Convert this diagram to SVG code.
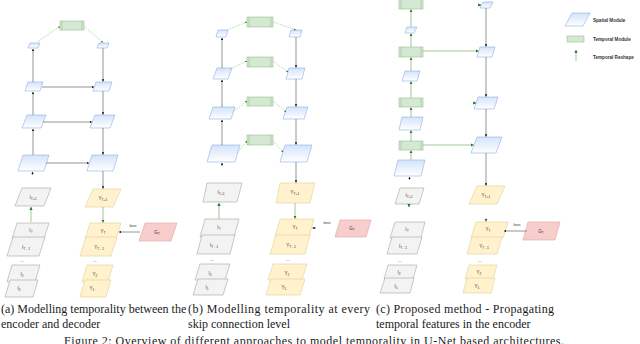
<svg xmlns="http://www.w3.org/2000/svg" width="640" height="344" viewBox="0 0 640 344">
<defs>
<linearGradient id="gs" x1="0" y1="0" x2="0" y2="1"><stop offset="0" stop-color="#d4e3fb"/><stop offset="1" stop-color="#ffffff"/></linearGradient>
<marker id="ad" viewBox="0 0 6 6" refX="5.5" refY="3" markerWidth="3" markerHeight="3" orient="auto"><path d="M0,0 L6,3 L0,6 z" fill="#111"/></marker>
<marker id="ag" viewBox="0 0 6 6" refX="5.5" refY="3" markerWidth="3.5" markerHeight="3.5" orient="auto"><path d="M0,0 L6,3 L0,6 z" fill="#1f7a1f"/></marker>
</defs>
<style>
.sp{fill:url(#gs);stroke:#8eaee6;stroke-width:0.6}
.tm{fill:#d5e8d4;stroke:#97c08a;stroke-width:0.6}
.tl{stroke:#97c08a;stroke-width:0.6}
.in{fill:#f3f3f3;stroke:#a6a6a6;stroke-width:0.6}
.yl{fill:#fff2cc;stroke:#e3cf98;stroke-width:0.6}
.gt{fill:#f8cecc;stroke:#e0a3a1;stroke-width:0.6}
.dk{stroke:#7a7a7a;stroke-width:0.8;fill:none;marker-end:url(#ad)}
.gd{stroke:#97c08a;stroke-width:0.6;fill:none;stroke-dasharray:1.5 1;marker-end:url(#ag)}
.gs{stroke:#97c08a;stroke-width:0.9;fill:none;marker-end:url(#ag)}
.lb{font-family:"Liberation Sans",Arial,sans-serif;font-size:4.5px;fill:#333;text-anchor:middle}
.sb{font-size:3.3px}
.lg{font-family:"Liberation Sans",Arial,sans-serif;font-size:4.6px;fill:#333;font-weight:bold}
.cp{font-family:"Liberation Serif","Times New Roman",serif;font-size:12px;fill:#1a1a1a}
</style>

<!-- Panel (a) -->
<g id="a-L1"><polygon class="sp" points="30,43 40,43 38,48 28,48"/></g>
<g id="a-R1"><polygon class="sp" points="99,43 109,43 107,48 97,48"/></g>
<g id="a-L2"><polygon class="sp" points="28,82 43,82 40,91 25,91"/></g>
<g id="a-R2"><polygon class="sp" points="96,82 112,82 109,91 93,91"/></g>
<g id="a-L3"><polygon class="sp" points="27,115 46,115 41,128 22,128"/></g>
<g id="a-R3"><polygon class="sp" points="95,115 115,115 110,128 90,128"/></g>
<g id="a-L4"><polygon class="sp" points="23,155 49,155 44,171 18,171"/></g>
<g id="a-R4"><polygon class="sp" points="92,155 118,155 113,171 87,171"/></g>
<g id="a-T"><rect class="tm" x="60" y="21" width="24" height="9"/><line class="tl" x1="62" y1="21" x2="62" y2="30"/><line class="tl" x1="82" y1="21" x2="82" y2="30"/></g>

<g id="a-ITp1"><polygon class="in" points="22,188 51,188 44,206 15,206"/><text class="lb" x="33" y="199">I<tspan class="sb" dy="0.8">T+1</tspan></text></g>
<g id="a-IT"><polygon class="in" points="17,223 49,223 44,239 12,239"/><text class="lb" x="31" y="232">I<tspan class="sb" dy="0.8">T</tspan></text></g>
<g id="a-ITm1"><polygon class="in" points="13,237 45,237 39,256 7,256"/><text class="lb" x="26" y="249">I<tspan class="sb" dy="0.8">T - 1</tspan></text></g>
<text class="lb" x="22" y="262">...</text>
<g id="a-I2"><polygon class="in" points="12,265 40,265 35,282 7,282"/><text class="lb" x="22" y="276">I<tspan class="sb" dy="0.8">2</tspan></text></g>
<g id="a-I1"><polygon class="in" points="10,280 38,280 33,297 5,297"/><text class="lb" x="19" y="290">I<tspan class="sb" dy="0.8">1</tspan></text></g>

<g id="a-YTp1"><polygon class="yl" points="93,189 121,189 113,207 85,207"/><text class="lb" x="103" y="200">Y<tspan class="sb" dy="0.8">T+1</tspan></text></g>
<g id="a-YT"><polygon class="yl" points="90,223 121,223 116,239 85,239"/><text class="lb" x="103" y="233">Y<tspan class="sb" dy="0.8">T</tspan></text></g>
<g id="a-YTm1"><polygon class="yl" points="86,237 117,237 111,256 80,256"/><text class="lb" x="99" y="249">Y<tspan class="sb" dy="0.8">T - 1</tspan></text></g>
<text class="lb" x="95" y="262">...</text>
<g id="a-Y2"><polygon class="yl" points="87,265 113,265 108,282 82,282"/><text class="lb" x="95" y="276">Y<tspan class="sb" dy="0.8">2</tspan></text></g>
<g id="a-Y1"><polygon class="yl" points="85,280 111,280 106,297 80,297"/><text class="lb" x="92" y="290">Y<tspan class="sb" dy="0.8">1</tspan></text></g>
<g id="a-GT"><polygon class="gt" points="145,223 177,223 171,241 139,241"/><text class="lb" x="157" y="234">G<tspan class="sb" dy="0.8">T</tspan></text></g>

<!-- Panel (b) -->
<g id="b-L1"><polygon class="sp" points="218,30 228,30 226,37 216,37"/></g>
<g id="b-L2"><polygon class="sp" points="217,68 232,68 228,79 213,79"/></g>
<g id="b-L3"><polygon class="sp" points="213,107 235,107 231,119 209,119"/></g>
<g id="b-L4"><polygon class="sp" points="212,145 240,145 235,162 207,162"/></g>
<g id="b-R1"><polygon class="sp" points="291,30 302,30 300,37 289,37"/></g>
<g id="b-R2"><polygon class="sp" points="289,68 305,68 302,79 286,79"/></g>
<g id="b-R3"><polygon class="sp" points="287,107 308,107 304,119 283,119"/></g>
<g id="b-R4"><polygon class="sp" points="285,145 312,145 307,162 280,162"/></g>
<g id="b-T1"><rect class="tm" x="247" y="17" width="26" height="10"/><line class="tl" x1="249" y1="17" x2="249" y2="27"/><line class="tl" x1="271" y1="17" x2="271" y2="27"/></g>
<g id="b-T2"><rect class="tm" x="247" y="57" width="26" height="10"/><line class="tl" x1="249" y1="57" x2="249" y2="67"/><line class="tl" x1="271" y1="57" x2="271" y2="67"/></g>
<g id="b-T3"><rect class="tm" x="247" y="97" width="26" height="9"/><line class="tl" x1="249" y1="97" x2="249" y2="106"/><line class="tl" x1="271" y1="97" x2="271" y2="106"/></g>
<g id="b-T4"><rect class="tm" x="247" y="135" width="26" height="10"/><line class="tl" x1="249" y1="135" x2="249" y2="145"/><line class="tl" x1="271" y1="135" x2="271" y2="145"/></g>

<g id="b-ITp1"><polygon class="in" points="207,183 242,183 237,202 203,202"/><text class="lb" x="221" y="194">I<tspan class="sb" dy="0.8">T+1</tspan></text></g>
<g id="b-IT"><polygon class="in" points="205,219 239,219 234,237 200,237"/><text class="lb" x="219" y="229">I<tspan class="sb" dy="0.8">T</tspan></text></g>
<g id="b-ITm1"><polygon class="in" points="202,235 235,235 230,254 197,254"/><text class="lb" x="214" y="247">I<tspan class="sb" dy="0.8">T - 1</tspan></text></g>
<text class="lb" x="212" y="261">...</text>
<g id="b-I2"><polygon class="in" points="200,264 230,264 225,280 195,280"/><text class="lb" x="210" y="275">I<tspan class="sb" dy="0.8">2</tspan></text></g>
<g id="b-I1"><polygon class="in" points="198,279 228,279 223,295 193,295"/><text class="lb" x="207" y="289">I<tspan class="sb" dy="0.8">1</tspan></text></g>

<g id="b-YTp1"><polygon class="yl" points="280,183 315,183 310,203 276,203"/><text class="lb" x="295" y="194">Y<tspan class="sb" dy="0.8">T+1</tspan></text></g>
<g id="b-YT"><polygon class="yl" points="280,219 314,219 309,237 275,237"/><text class="lb" x="295" y="229">Y<tspan class="sb" dy="0.8">T</tspan></text></g>
<g id="b-YTm1"><polygon class="yl" points="276,235 310,235 305,254 270,254"/><text class="lb" x="291" y="247">Y<tspan class="sb" dy="0.8">T - 1</tspan></text></g>
<text class="lb" x="288" y="261">...</text>
<g id="b-Y2"><polygon class="yl" points="273,264 307,264 302,280 268,280"/><text class="lb" x="287" y="275">Y<tspan class="sb" dy="0.8">2</tspan></text></g>
<g id="b-Y1"><polygon class="yl" points="271,279 305,279 300,295 266,295"/><text class="lb" x="284" y="289">Y<tspan class="sb" dy="0.8">1</tspan></text></g>
<g id="b-GT"><polygon class="gt" points="340,220 371,220 366,237 335,237"/><text class="lb" x="352" y="230">G<tspan class="sb" dy="0.8">T</tspan></text></g>

<!-- Panel (c) -->
<g id="c-T1"><rect class="tm" x="399" y="-1" width="24" height="10"/><line class="tl" x1="401" y1="-1" x2="401" y2="9"/><line class="tl" x1="421" y1="-1" x2="421" y2="9"/></g>
<g id="c-P1"><polygon class="sp" points="407,27 417,27 414,33 405,33"/></g>
<g id="c-T2"><rect class="tm" x="399" y="47" width="24" height="10"/><line class="tl" x1="401" y1="47" x2="401" y2="57"/><line class="tl" x1="421" y1="47" x2="421" y2="57"/></g>
<g id="c-P2"><polygon class="sp" points="405,71 420,71 417,81 402,81"/></g>
<g id="c-T3"><rect class="tm" x="399" y="98" width="24" height="9"/><line class="tl" x1="401" y1="98" x2="401" y2="107"/><line class="tl" x1="421" y1="98" x2="421" y2="107"/></g>
<g id="c-P3"><polygon class="sp" points="402,117 423,117 420,130 399,130"/></g>
<g id="c-T4"><rect class="tm" x="399" y="141" width="24" height="9"/><line class="tl" x1="401" y1="141" x2="401" y2="150"/><line class="tl" x1="421" y1="141" x2="421" y2="150"/></g>
<g id="c-P4"><polygon class="sp" points="398,160 425,160 421,176 394,176"/></g>
<g id="c-R1"><polygon class="sp" points="483,2 493,2 490,8 480,8"/></g>
<g id="c-R2"><polygon class="sp" points="480,47 495,47 492,57 477,57"/></g>
<g id="c-R3"><polygon class="sp" points="478,97 498,97 494,109 474,109"/></g>
<g id="c-R4"><polygon class="sp" points="477,137 502,137 496,153 471,153"/></g>

<g id="c-ITp1"><polygon class="in" points="400,188 424,188 419,204 395,204"/><text class="lb" x="409" y="197">I<tspan class="sb" dy="0.8">T+1</tspan></text></g>
<g id="c-IT"><polygon class="in" points="395,222 425,222 421,238 390,238"/><text class="lb" x="407" y="231">I<tspan class="sb" dy="0.8">T</tspan></text></g>
<g id="c-ITm1"><polygon class="in" points="392,237 422,237 417,254 387,254"/><text class="lb" x="403" y="248">I<tspan class="sb" dy="0.8">T - 1</tspan></text></g>
<text class="lb" x="400" y="262">...</text>
<g id="c-I2"><polygon class="in" points="388,265 417,265 413,279 384,279"/><text class="lb" x="399" y="274">I<tspan class="sb" dy="0.8">2</tspan></text></g>
<g id="c-I1"><polygon class="in" points="385,278 414,278 410,293 380,293"/><text class="lb" x="396" y="288">I<tspan class="sb" dy="0.8">1</tspan></text></g>

<g id="c-YTp1"><polygon class="yl" points="477,186 505,186 497,204 469,204"/><text class="lb" x="486" y="197">Y<tspan class="sb" dy="0.8">T+1</tspan></text></g>
<g id="c-YT"><polygon class="yl" points="476,222 508,222 503,238 471,238"/><text class="lb" x="488" y="231">Y<tspan class="sb" dy="0.8">T</tspan></text></g>
<g id="c-YTm1"><polygon class="yl" points="472,237 502,237 497,254 467,254"/><text class="lb" x="484" y="248">Y<tspan class="sb" dy="0.8">T - 1</tspan></text></g>
<text class="lb" x="480" y="262">...</text>
<g id="c-Y2"><polygon class="yl" points="469,265 497,265 493,279 465,279"/><text class="lb" x="479" y="274">Y<tspan class="sb" dy="0.8">2</tspan></text></g>
<g id="c-Y1"><polygon class="yl" points="467,278 495,278 491,293 463,293"/><text class="lb" x="477" y="288">Y<tspan class="sb" dy="0.8">1</tspan></text></g>
<g id="c-GT"><polygon class="gt" points="528,222 560,222 555,240 523,240"/><text class="lb" x="541" y="233">G<tspan class="sb" dy="0.8">T</tspan></text></g>

<!-- Legend -->
<g id="legend-spatial"><polygon class="sp" points="572,13 590,13 583,26 565,26"/><text class="lg" x="593" y="21.5">Spatial Module</text></g>
<g id="legend-temporal"><rect class="tm" x="567" y="36" width="17" height="6"/><text class="lg" x="593" y="40.5">Temporal Module</text></g>
<g id="legend-reshape"><line class="gs" x1="576" y1="61" x2="576" y2="50"/><text class="lg" x="593" y="59">Temporal Reshape</text></g>

<!-- Connectors -->
<g id="connectors">
<line class="dk" x1="33" y1="155" x2="33" y2="129"/>
<line class="dk" x1="33" y1="115" x2="33" y2="92"/>
<line class="dk" x1="33" y1="82" x2="33" y2="49"/>
<line class="dk" x1="32.5" y1="175" x2="32.5" y2="172"/>
<line class="dk" x1="103" y1="48" x2="103" y2="81.5"/>
<line class="dk" x1="103" y1="91" x2="103" y2="114.5"/>
<line class="dk" x1="103" y1="128" x2="103" y2="154.5"/>
<line class="dk" x1="103" y1="171" x2="103" y2="188.5"/>
<line class="dk" x1="42" y1="87" x2="94" y2="87"/>
<line class="dk" x1="43" y1="122" x2="92" y2="122"/>
<line class="dk" x1="46" y1="163" x2="89" y2="163"/>
<line class="gd" x1="37" y1="42" x2="60" y2="26.5"/>
<line class="gd" x1="84" y1="26" x2="103" y2="42.5"/>
<line class="gs" x1="31" y1="222" x2="31" y2="207"/>
<line class="gs" x1="103" y1="207" x2="103" y2="222.5"/>
<line class="dk" x1="140" y1="232" x2="119" y2="232"/>
<text class="lb" x="133" y="227" style="font-size:4px">loss</text>
<line class="dk" x1="222" y1="145" x2="222" y2="120"/>
<line class="dk" x1="222" y1="107" x2="222" y2="80"/>
<line class="dk" x1="222" y1="68" x2="222" y2="38"/>
<line class="dk" x1="222" y1="166" x2="222" y2="163"/>
<line class="dk" x1="296" y1="37" x2="296" y2="67.5"/>
<line class="dk" x1="296" y1="79" x2="296" y2="106.5"/>
<line class="dk" x1="296" y1="119" x2="296" y2="144.5"/>
<line class="dk" x1="296" y1="162" x2="296" y2="182.5"/>
<line class="gd" x1="227" y1="30" x2="247" y2="22"/>
<line class="gd" x1="273" y1="22" x2="296" y2="30"/>
<line class="gd" x1="230" y1="69" x2="247" y2="61"/>
<line class="gd" x1="273" y1="61" x2="288" y2="72"/>
<line class="gd" x1="233" y1="112" x2="247" y2="101"/>
<line class="gd" x1="273" y1="101" x2="286" y2="112"/>
<line class="gd" x1="237" y1="153" x2="247" y2="141"/>
<line class="gd" x1="273" y1="141" x2="283" y2="152"/>
<line class="gs" x1="219" y1="219" x2="219" y2="203"/>
<line class="gs" x1="295" y1="203" x2="295" y2="218.5"/>
<line class="dk" x1="316" y1="228" x2="312.5" y2="228"/>
<text class="lb" x="327" y="224" style="font-size:4px">loss</text>
<line class="gs" x1="411" y1="160" x2="411" y2="150.5"/>
<line class="gs" x1="411" y1="141" x2="411" y2="130.5"/>
<line class="gs" x1="411" y1="117" x2="411" y2="107.5"/>
<line class="gs" x1="411" y1="98" x2="411" y2="81.5"/>
<line class="gs" x1="411" y1="71" x2="411" y2="57.5"/>
<line class="gs" x1="411" y1="47" x2="411" y2="33.5"/>
<line class="gs" x1="411" y1="27" x2="411" y2="9.5"/>
<line class="dk" x1="409.5" y1="180" x2="409.5" y2="177"/>
<line class="gs" x1="423" y1="51" x2="478.5" y2="51"/>
<line class="gs" x1="423" y1="145" x2="473.5" y2="145"/>
<line class="gs" x1="478" y1="5" x2="481" y2="5"/>
<line class="gs" x1="473" y1="103" x2="476" y2="103"/>
<line class="dk" x1="486" y1="8" x2="486" y2="46.5"/>
<line class="dk" x1="486" y1="57" x2="486" y2="96.5"/>
<line class="dk" x1="486" y1="109" x2="486" y2="136.5"/>
<line class="dk" x1="486" y1="153" x2="486" y2="185.5"/>
<line class="gs" x1="409" y1="204" x2="409" y2="207"/>
<line class="gs" x1="486" y1="218" x2="486" y2="221.5"/>
<line class="dk" x1="527" y1="231" x2="504" y2="231"/>
<text class="lb" x="517" y="226" style="font-size:4px">loss</text>
</g>

<!-- Captions -->
<g id="captions">
<text class="cp" x="1" y="313">(a) Modelling temporality between the</text>
<text class="cp" x="188" y="313" textLength="182" lengthAdjust="spacing">(b) Modelling temporality at every</text>
<text class="cp" x="376" y="313" textLength="178" lengthAdjust="spacing">(c) Proposed method - Propagating</text>
<text class="cp" x="1" y="328">encoder and decoder</text>
<text class="cp" x="188" y="328">skip connection level</text>
<text class="cp" x="376" y="328">temporal features in the encoder</text>
<text class="cp" x="64" y="344.5" textLength="500" lengthAdjust="spacing">Figure 2: Overview of different approaches to model temporality in U-Net based architectures.</text>
</g>
</svg>
